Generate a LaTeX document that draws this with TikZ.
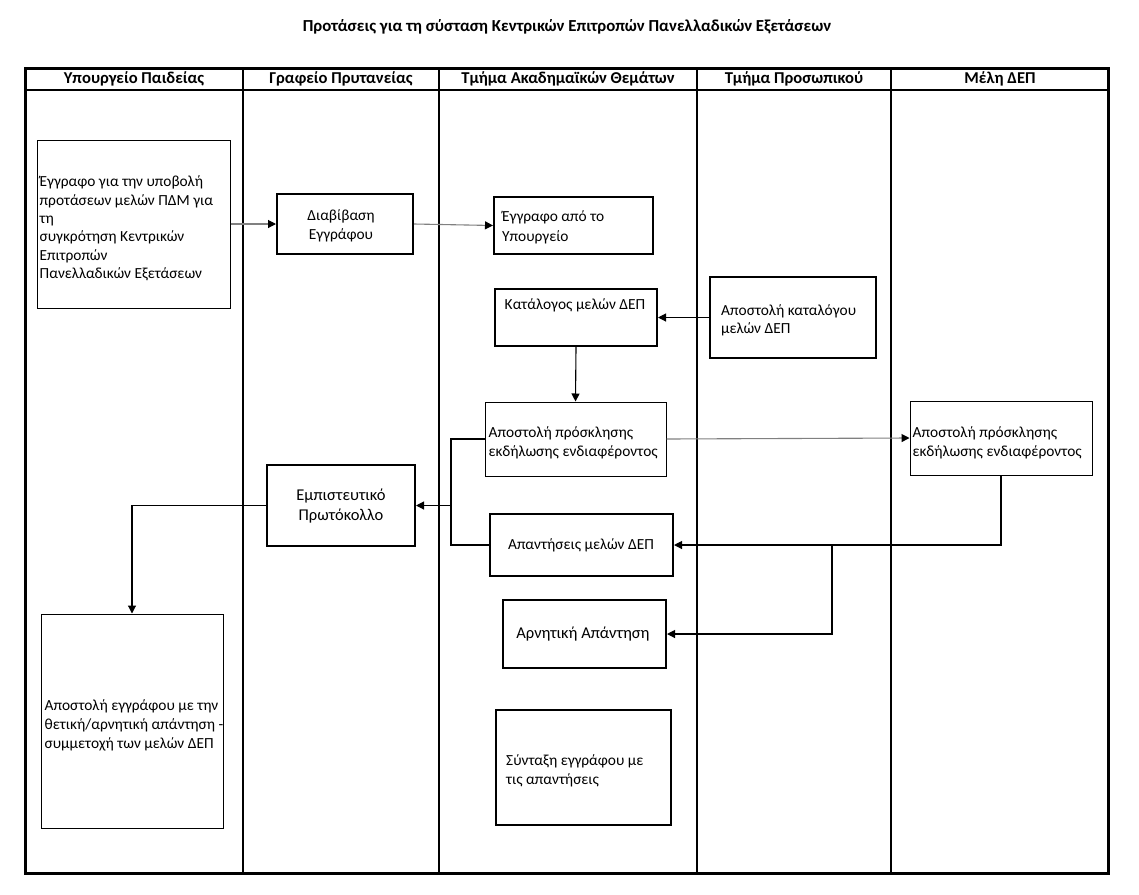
\documentclass[tikz,border=0pt]{standalone}
\usepackage{fontspec}
\setmainfont{Carlito}
\usetikzlibrary{arrows.meta}
\newcommand{\bodyfs}{\fontsize{15.4}{19}\selectfont}
\newcommand{\bigfs}{\fontsize{16.5}{20}\selectfont}
\begin{document}
\begin{tikzpicture}[x=1pt,y=-1pt,
  thickbox/.style={draw, line width=2pt, inner sep=0pt},
  thinbox/.style={draw, line width=1pt, inner sep=0pt},
  txt/.style={font=\bodyfs, inner sep=0pt, align=left, anchor=west},
  ctxt/.style={font=\bodyfs, inner sep=0pt, align=center},
  head/.style={font=\bfseries\fontsize{16.6}{19}\selectfont, inner sep=0pt},
  lane/.style={line width=2.2pt},
  conn/.style={line width=1.1pt},
  arr/.style={line width=1.1pt, -{Triangle[length=8pt,width=8pt,color=black]}},
  garr/.style={arr, draw=black!50}
]
\useasboundingbox (0,0) rectangle (1139,894);

% title
\node[font=\bfseries\fontsize{16.8}{19}\selectfont, inner sep=0pt] (title) at (567,27) {Προτάσεις για τη σύσταση Κεντρικών Επιτροπών Πανελλαδικών Εξετάσεων};

% pool / lanes
\draw[line width=3pt] (25,68) rectangle (1108,873);
\draw[line width=2pt] (25,90) -- (1108,90);
\foreach \x in {243,439,697,891} \draw[lane] (\x,68) -- (\x,873);

\node[head] (h1) at (134,79) {Υπουργείο Παιδείας};
\node[head] (h2) at (341,79) {Γραφείο Πρυτανείας};
\node[head] (h3) at (568,79) {Τμήμα Ακαδημαϊκών Θεμάτων};
\node[head] (h4) at (794,79) {Τμήμα Προσωπικού};
\node[head] (h5) at (1000,79) {Μέλη ΔΕΠ};

% boxes
\node[thinbox, minimum width=193pt, minimum height=168pt] (a) at (133.5,224) {};
\node[txt, font=\fontsize{15.4}{18.4}\selectfont] (at) at ([xshift=3pt,yshift=-4.5pt]a.west) {Έγγραφο για την υποβολή\\προτάσεων μελών ΠΔΜ για\\τη\\συγκρότηση Κεντρικών\\Επιτροπών\\Πανελλαδικών Εξετάσεων};

\node[thickbox, minimum width=136pt, minimum height=60pt] (diav) at (345,224) {};
\node[ctxt] (diavt) at (341,226) {Διαβίβαση\\Εγγράφου};

\node[thickbox, minimum width=159pt, minimum height=57pt] (egr) at (573.5,225.5) {};
\node[txt, font=\fontsize{15.4}{20}\selectfont] (egrt) at ([xshift=9pt,yshift=-2pt]egr.west) {Έγγραφο από το\\Υπουργείο};

\node[thickbox, minimum width=162pt, minimum height=57pt] (kat) at (576,317.5) {};
\node[ctxt] (katt) at (575,305) {Κατάλογος μελών ΔΕΠ};

\node[thickbox, minimum width=166pt, minimum height=81pt] (katap) at (793,317.5) {};
\node[txt, font=\fontsize{15.4}{18}\selectfont] (katapt) at ([xshift=12pt,yshift=-2.5pt]katap.west) {Αποστολή καταλόγου\\μελών ΔΕΠ};

\node[thinbox, minimum width=181pt, minimum height=74pt] (prosk) at (575.5,439) {};
\node[txt] (proskt) at ([xshift=4pt,yshift=-3.5pt]prosk.west) {Αποστολή πρόσκλησης\\εκδήλωσης ενδιαφέροντος};

\node[thinbox, minimum width=182pt, minimum height=74pt] (prosk2) at (1001,438) {};
\node[txt] (prosk2t) at ([xshift=3pt,yshift=-4.5pt]prosk2.west) {Αποστολή πρόσκλησης\\εκδήλωσης ενδιαφέροντος};

\node[thickbox, minimum width=148pt, minimum height=81pt] (emp) at (341,505.5) {};
\node[ctxt, font=\bigfs] (empt) at (341,506) {Εμπιστευτικό\\Πρωτόκολλο};

\node[thickbox, minimum width=183pt, minimum height=62pt] (apan) at (581.5,545) {};
\node[ctxt] (apant) at (581,545.5) {Απαντήσεις μελών ΔΕΠ};

\node[thickbox, minimum width=163pt, minimum height=68pt] (arn) at (584.5,634) {};
\node[ctxt, font=\bigfs] (arnt) at (583,634) {Αρνητική Απάντηση};

\node[thickbox, minimum width=175pt, minimum height=115pt] (synt) at (583.5,767.5) {};
\node[txt] (syntt) at ([xshift=11pt,yshift=-3.5pt]synt.west) {Σύνταξη εγγράφου με\\τις απαντήσεις};

\node[thinbox, minimum width=182pt, minimum height=214pt] (bl) at (132,721) {};
\node[txt] (blt) at ([xshift=4pt,yshift=-4.5pt]bl.west) {Αποστολή εγγράφου με την\\θετική/αρνητική απάντηση -\\συμμετοχή των μελών ΔΕΠ};

% connectors
\draw[garr] (a.east) -- (diav.west);
\draw[garr] (diav.east) -- (egr.west);
\draw[arr] (katap.west) -- (kat.east);
\draw[arr] (kat.south) -- (prosk.north);
\draw[garr] (prosk.east) -- (prosk2.west);
\draw[arr] (prosk2.south) |- (apan.east);
\coordinate (br) at (832,545);
\draw[arr] (br) |- (arn.east);
\coordinate (jt) at (451,439);
\coordinate (jb) at (451,545);
\coordinate (jm) at (451,505.5);
\draw[conn] (prosk.west) -- (jt) -- (jb) -- (apan.west);
\draw[arr] (jm) -- (emp.east);
\draw[arr] (emp.west) -| (bl.north);
\end{tikzpicture}
\end{document}
